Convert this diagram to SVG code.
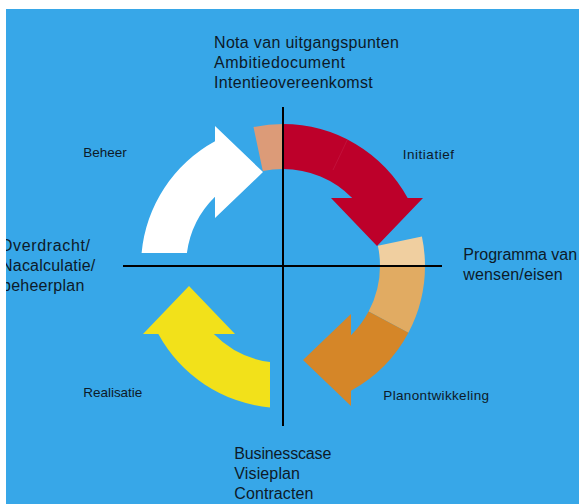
<svg xmlns="http://www.w3.org/2000/svg" width="579" height="504" viewBox="0 0 579 504">
  <defs>
    <clipPath id="panel">
      <rect x="6" y="9" width="573" height="495"/>
    </clipPath>
    <style>
      .big { font-family: "Liberation Sans", Arial, sans-serif; font-size: 16px; fill: #0d1a28; }
      .small { font-family: "Liberation Sans", Arial, sans-serif; font-size: 13.5px; fill: #0d1a28; }
      .axis { stroke: #000; stroke-width: 2; fill: none; }
    </style>
  </defs>
  <rect x="0" y="0" width="579" height="504" fill="#ffffff"/>
  <g clip-path="url(#panel)">
    <rect x="6" y="9" width="573" height="495" fill="#37a7e8"/>

    <g id="marker-top">
      <path d="M 253.5,127.1 A 142 142 0 0 1 283,124 L 283,169 A 97 97 0 0 0 262.8,171.1 Z" fill="#dc9b78"/>
    </g>
    <g id="arrow-initiatief">
      <path d="M 283,124 A 142 142 0 0 1 407.66,198 L 423,198 L 377,246 L 331,198 L 352.17,198 A 97 97 0 0 0 283,169 Z" fill="#bd002a"/>
      <line x1="333" y1="170" x2="347.5" y2="139.5" stroke="#d2406a" stroke-width="0.6" opacity="0.45"/>
    </g>
    <g id="marker-right">
      <path d="M 421.9,236.5 A 142 142 0 0 1 425,266 L 380,266 A 97 97 0 0 0 377.9,245.8 Z" fill="#f0cfa0"/>
      <path d="M 425,266 A 142 142 0 0 1 408.4,332.7 L 368.6,311.5 A 97 97 0 0 0 380,266 Z" fill="#e1ab62"/>
    </g>
    <g id="arrow-planontwikkeling">
      <path d="M 408.4,332.7 A 142 142 0 0 1 351,390.66 L 351,406 L 303,360 L 351,314 L 351,335.17 A 97 97 0 0 0 368.6,311.5 Z" fill="#d58628"/>
    </g>
    <g id="arrow-realisatie">
      <path d="M 270,407.4 A 142 142 0 0 1 158.34,334 L 143,334 L 189,286 L 235,334 L 213.83,334 A 97 97 0 0 0 270,362.1 Z" fill="#f2e11a"/>
    </g>
    <g id="arrow-beheer">
      <path d="M 141.6,253 A 142 142 0 0 1 215,141.34 L 215,126 L 263,172 L 215,218 L 215,196.83 A 97 97 0 0 0 186.9,253 Z" fill="#ffffff"/>
    </g>

    <g id="axes">
      <line class="axis" x1="283" y1="107" x2="283" y2="426"/>
      <line class="axis" x1="123" y1="266" x2="442" y2="266"/>
    </g>

    <g id="label-top">
      <text class="big" x="214" y="48.3" textLength="185" lengthAdjust="spacing">Nota van uitgangspunten</text>
      <text class="big" x="214" y="67.8" textLength="131" lengthAdjust="spacing">Ambitiedocument</text>
      <text class="big" x="214" y="87.7" textLength="158.7" lengthAdjust="spacing">Intentieovereenkomst</text>
    </g>
    <g id="label-right">
      <text class="big" x="463.3" y="260">Programma van</text>
      <text class="big" x="463.3" y="279.5" textLength="99.4" lengthAdjust="spacing">wensen/eisen</text>
    </g>
    <g id="label-bottom">
      <text class="big" x="234.3" y="459.3" textLength="97" lengthAdjust="spacing">Businesscase</text>
      <text class="big" x="234.3" y="479" textLength="65.7" lengthAdjust="spacing">Visieplan</text>
      <text class="big" x="234.3" y="499" textLength="79" lengthAdjust="spacing">Contracten</text>
    </g>
    <g id="label-left">
      <text class="big" x="0" y="251" textLength="90" lengthAdjust="spacing">Overdracht/</text>
      <text class="big" x="1" y="271" textLength="94.3" lengthAdjust="spacing">Nacalculatie/</text>
      <text class="big" x="2" y="291" textLength="82.3" lengthAdjust="spacing">beheerplan</text>
    </g>
    <g id="label-phases">
      <text class="small" x="83.3" y="156.7" textLength="43.4" lengthAdjust="spacing">Beheer</text>
      <text class="small" x="402.7" y="158.5" textLength="51.3" lengthAdjust="spacing">Initiatief</text>
      <text class="small" x="83.3" y="396.7" textLength="59" lengthAdjust="spacing">Realisatie</text>
      <text class="small" x="383.3" y="400" textLength="105.7" lengthAdjust="spacing">Planontwikkeling</text>
    </g>
  </g>
</svg>
